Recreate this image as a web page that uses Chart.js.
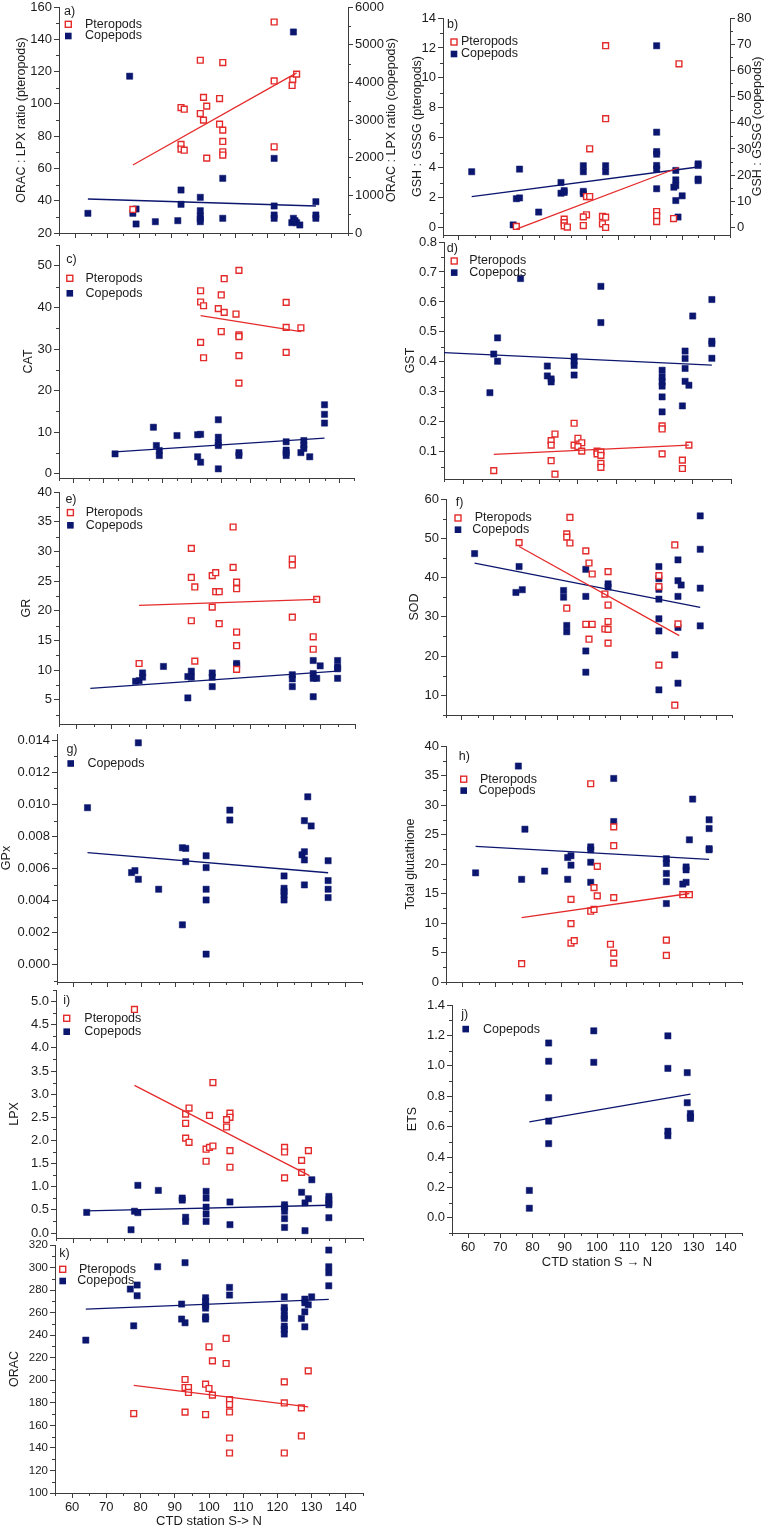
<!DOCTYPE html>
<html>
<head>
<meta charset="utf-8">
<script src="https://cdn.jsdelivr.net/npm/chart.js@4.4.1/dist/chart.umd.min.js"></script>
<style>
  html, body { margin: 0; padding: 0; background: #fff; }
  #page { position: relative; width: 766px; height: 1528px; overflow: hidden; background: #fff; }
  #page canvas { position: absolute; }
</style>
</head>
<body>
<div id="page"></div>
<script>
// ---- x (CTD station) tick labels ----
const xTicks = [60, 70, 80, 90, 100, 110, 120, 130, 140]
const cXTicks = [50, 60, 70, 80, 90, 100, 110, 120, 130, 140]
const dXTicks = [70, 80, 90, 100, 110, 120, 130, 140]

// ---- a) ORAC : LPX ratio ----
const aYTicks = [20, 40, 60, 80, 100, 120, 140, 160]
const aY2Ticks = [0, 1000, 2000, 3000, 4000, 5000, 6000]
const aPteroX = [122, 127.8, 127.6, 129, 122, 122, 99, 106, 93, 94, 100, 101, 99, 100, 105, 105, 106, 106, 106, 106, 101, 93, 93, 94, 78]
const aPteroY = [150.7, 115.1, 111.4, 118.4, 114.2, 73.4, 127, 125.6, 97.7, 96.7, 104, 98.6, 94.0, 89.9, 103.3, 87.4, 83.7, 76.7, 70.3, 68.3, 66.4, 74.9, 72.0, 71.3, 34.6]
const aCopeX = [64, 78, 79, 79, 77, 85, 92, 93, 93, 99, 99, 99, 99, 99, 106, 106, 122, 122, 122, 122, 128, 127.5, 128, 128.5, 129, 130, 135, 135, 135]
const aCopeY = [523, 523, 637, 239, 4163, 300, 327, 1141, 761, 947, 592, 452, 373, 300, 1451, 390, 1981, 717, 478, 390, 5337, 274, 390, 327, 274, 213, 831, 478, 390]
const aPteroFitX = [78, 129]
const aPteroFitY = [62.1, 119.2]
const aCopeFitX = [64, 135]
const aCopeFitY = [902, 717]

// ---- b) GSH : GSSG ----
const bYTicks = [0, 2, 4, 6, 8, 10, 12, 14]
const bY2Ticks = [0, 10, 20, 30, 40, 50, 60, 70, 80]
const bPteroX = [106, 129, 106, 101, 100, 101, 100, 99, 99, 93, 93, 93, 94, 105, 106, 105, 106, 122, 122, 122, 127.3, 78]
const bPteroY = [12.15, 10.94, 7.27, 5.26, 2.07, 2.07, 0.85, 0.71, 0.13, 0.56, 0.33, 0.11, 0.03, 0.74, 0.69, 0.25, 0.0, 1.07, 0.80, 0.40, 0.6, 0.07]
const bCopeX = [64, 77, 79, 78, 79, 85, 92, 92, 93, 93, 99, 99, 99, 99, 106, 106, 122, 122, 122, 122, 122, 122, 122, 128, 128, 127.4, 128, 128, 128.7, 130, 135, 135, 135, 135]
const bCopeY = [21.3, 1.0, 22.3, 11.0, 11.3, 5.9, 17.2, 13.1, 14.1, 13.4, 23.6, 21.3, 13.8, 12.9, 23.6, 21.3, 69.4, 36.4, 29.0, 28.0, 23.7, 22.3, 14.8, 21.8, 18.2, 15.4, 16.0, 10.3, 4.0, 12.1, 24.3, 23.7, 18.5, 17.9]
const bPteroFitX = [78, 129]
const bPteroFitY = [-0.11, 4.01]
const bCopeFitX = [64, 135]
const bCopeFitY = [11.8, 23.1]

// ---- c) CAT ----
const cYTicks = [0, 10, 20, 30, 40, 50]
const cPteroX = [106, 101, 93, 100, 93, 94, 99, 101, 105, 122, 122, 127, 122, 100, 106, 106, 93, 94, 106, 106]
const cPteroY = [48.9, 46.9, 44.0, 43.0, 41.3, 40.4, 39.7, 38.8, 38.4, 41.2, 35.2, 35.1, 29.2, 34.2, 33.4, 33.0, 31.6, 27.9, 28.4, 21.8]
const cCopeX = [64, 77, 78, 79, 79, 85, 92, 93, 92, 93, 99, 99, 99, 99, 99, 106, 106, 122, 122, 122, 122, 128, 128, 128, 127, 130, 135, 135, 135]
const cCopeY = [4.8, 11.2, 6.8, 5.6, 4.4, 9.2, 9.4, 9.5, 4.1, 2.8, 13.0, 8.8, 7.4, 6.8, 1.2, 5.1, 4.4, 7.7, 5.7, 5.1, 4.4, 8.0, 6.9, 6.1, 5.1, 4.1, 16.6, 14.3, 12.2]
const cPteroFitX = [93, 127]
const cPteroFitY = [38.0, 34.2]
const cCopeFitX = [64, 135]
const cCopeFitY = [5.3, 8.6]

// ---- d) GST ----
const dYTicks = [0.1, 0.2, 0.3, 0.4, 0.5, 0.6, 0.7, 0.8]
const dPteroX = [99, 94, 93, 93, 93, 100, 101, 99, 100, 101, 105, 105, 106, 106, 106, 106, 122, 122, 122, 129, 127.3, 127.3, 78, 94]
const dPteroY = [0.195, 0.159, 0.137, 0.122, 0.07, 0.145, 0.13, 0.122, 0.117, 0.102, 0.102, 0.093, 0.1, 0.088, 0.061, 0.048, 0.186, 0.176, 0.093, 0.122, 0.072, 0.044, 0.037, 0.025]
const dCopeX = [85, 106, 106, 135, 130, 79, 78, 79, 77, 92, 92, 93, 93, 99, 99, 99, 99, 122, 122, 122, 122, 122, 122, 128, 128, 128, 128, 129, 127.3, 135, 135, 135]
const dCopeY = [0.678, 0.652, 0.531, 0.608, 0.553, 0.48, 0.426, 0.402, 0.297, 0.386, 0.353, 0.343, 0.333, 0.417, 0.402, 0.388, 0.356, 0.372, 0.35, 0.333, 0.319, 0.283, 0.233, 0.436, 0.411, 0.378, 0.335, 0.322, 0.253, 0.469, 0.461, 0.412]
const dPteroFitX = [78, 129]
const dPteroFitY = [0.091, 0.122]
const dCopeFitX = [65, 135]
const dCopeFitY = [0.431, 0.389]

// ---- e) GR ----
const eYTicks = [5, 10, 15, 20, 25, 30, 35, 40]
const ePteroX = [105, 93, 122, 122, 105, 93, 99, 100, 94, 100, 101, 106, 106, 99, 93, 101, 122, 129, 128, 128, 106, 106, 94, 106, 78]
const ePteroY = [34.1, 30.5, 28.7, 27.7, 27.3, 25.6, 25.9, 26.4, 24.0, 23.2, 23.2, 24.8, 23.7, 20.6, 18.3, 17.8, 18.9, 21.9, 15.6, 13.5, 16.4, 14.1, 11.5, 10.1, 11.1]
const eCopeX = [77, 78, 79, 79, 85, 92, 93, 93, 92, 99, 99, 99, 106, 106, 122, 122, 122, 128, 128, 128, 129, 130, 128, 135, 135, 135, 135]
const eCopeY = [8.1, 8.2, 9.5, 8.8, 10.6, 8.9, 9.8, 8.8, 5.3, 9.5, 8.8, 7.2, 11.1, 10.8, 9.2, 8.5, 7.2, 11.6, 9.4, 8.6, 8.6, 10.7, 5.5, 11.6, 10.5, 10.2, 8.6]
const ePteroFitX = [78, 129]
const ePteroFitY = [20.9, 21.9]
const eCopeFitX = [64, 135]
const eCopeFitY = [6.9, 9.8]

// ---- f) SOD ----
const fYTicks = [10, 20, 30, 40, 50, 60]
const fPteroX = [94, 93, 93, 94, 78, 99, 100, 101, 106, 105, 106, 106, 105, 106, 106, 93, 99, 101, 100, 122, 122, 122, 127, 128, 127]
const fPteroY = [55.3, 51.1, 50.3, 48.8, 48.9, 46.8, 43.7, 40.9, 41.5, 35.8, 33.0, 28.8, 26.9, 26.8, 23.3, 32.2, 28.1, 28.1, 24.3, 40.5, 37.7, 17.7, 48.3, 28.2, 7.5]
const fCopeX = [64, 78, 77, 79, 92, 92, 93, 93, 99, 99, 99, 99, 106, 106, 122, 122, 122, 122, 122, 122, 122, 128, 128, 128, 129, 128, 127, 128, 135, 135, 135, 135]
const fCopeY = [46.1, 42.8, 36.2, 36.9, 36.7, 35.0, 27.8, 26.2, 42.1, 35.2, 21.3, 15.9, 38.4, 37.6, 42.8, 39.7, 37.0, 34.5, 29.5, 26.4, 11.4, 44.5, 39.2, 35.2, 38.1, 27.3, 20.3, 13.1, 55.7, 47.2, 37.3, 27.7]
const fPteroFitX = [78, 128.4]
const fPteroFitY = [47.9, 25.2]
const fCopeFitX = [64, 135]
const fCopeFitY = [43.7, 32.4]

// ---- g) GPx ----
const gYTicks = [0, 0.002, 0.004, 0.006, 0.008, 0.010, 0.012, 0.014]
const gCopeX = [79, 64, 77, 78, 79, 85, 92, 93, 93, 92, 99, 99, 99, 99, 99, 106, 106, 122, 122, 122, 122, 122, 129, 128, 130, 127.3, 128, 128, 128, 135, 135, 135, 135]
const gCopeY = [0.01385, 0.0098, 0.00575, 0.00587, 0.00533, 0.00471, 0.0073, 0.00726, 0.00643, 0.00249, 0.0068, 0.00606, 0.00471, 0.00404, 0.00066, 0.00965, 0.00903, 0.00554, 0.00477, 0.00456, 0.00436, 0.00404, 0.01048, 0.00899, 0.00866, 0.00686, 0.00705, 0.00654, 0.00498, 0.00649, 0.00525, 0.00471, 0.00419]
const gCopeFitX = [64, 135]
const gCopeFitY = [0.00699, 0.00574]

// ---- h) Total glutathione ----
const hYTicks = [0, 5, 10, 15, 20, 25, 30, 35, 40]
const hPteroX = [99, 106, 106, 101, 100, 101, 106, 93, 99, 100, 127, 129, 93, 93, 94, 105, 106, 106, 122, 122, 78]
const hPteroY = [33.6, 26.3, 23.1, 19.6, 16.0, 14.6, 14.3, 14.0, 12.0, 12.3, 14.8, 14.8, 9.9, 6.6, 7.0, 6.4, 4.9, 3.2, 7.1, 4.5, 3.1]
const hCopeX = [77, 106, 106, 130, 135, 135, 135, 135, 79, 64, 78, 85, 92, 93, 93, 92, 99, 99, 99, 99, 122, 122, 122, 122, 122, 127, 128, 128, 128, 129]
const hCopeY = [36.6, 34.5, 27.2, 31.0, 27.5, 26.0, 22.6, 22.4, 25.9, 18.5, 17.4, 18.8, 21.1, 21.4, 19.8, 17.4, 22.9, 22.4, 20.3, 16.9, 20.9, 20.1, 18.4, 17.0, 13.3, 16.6, 16.9, 19.5, 19.0, 24.1]
const hPteroFitX = [78, 129]
const hPteroFitY = [10.9, 15.0]
const hCopeFitX = [64, 135]
const hCopeFitY = [23.0, 20.8]

// ---- i) LPX ----
const iYTicks = [0, 0.5, 1.0, 1.5, 2.0, 2.5, 3.0, 3.5, 4.0, 4.5, 5.0]
const iPteroX = [78, 101, 94, 93, 93, 100, 106, 106, 105, 105, 93, 94, 99, 100, 101, 106, 122, 122, 129, 99, 106, 122, 127, 127]
const iPteroY = [4.83, 3.25, 2.70, 2.57, 2.37, 2.54, 2.59, 2.50, 2.45, 2.29, 2.05, 1.96, 1.81, 1.85, 1.88, 1.78, 1.85, 1.75, 1.78, 1.55, 1.42, 1.19, 1.57, 1.31]
const iCopeX = [64, 77, 78, 79, 79, 85, 92, 92, 93, 93, 99, 99, 99, 99, 99, 106, 106, 122, 122, 122, 122, 122, 127, 128, 129, 130, 128, 135, 135, 135, 135, 135]
const iCopeY = [0.445, 0.07, 0.47, 0.44, 1.03, 0.92, 0.755, 0.71, 0.34, 0.25, 0.9, 0.755, 0.56, 0.41, 0.25, 0.67, 0.18, 0.61, 0.56, 0.47, 0.31, 0.12, 0.88, 0.65, 0.74, 1.15, 0.05, 0.79, 0.72, 0.65, 0.61, 0.33]
const iPteroFitX = [78, 129.3]
const iPteroFitY = [3.19, 1.24]
const iCopeFitX = [64, 135]
const iCopeFitY = [0.48, 0.6]

// ---- j) ETS ----
const jYTicks = [0, 0.2, 0.4, 0.6, 0.8, 1.0, 1.2, 1.4]
const jCopeX = [79, 79, 85, 85, 85, 85, 85, 99, 99, 122, 122, 122, 122, 128, 128, 129, 129, 129]
const jCopeY = [0.18, 0.063, 1.15, 1.03, 0.79, 0.636, 0.488, 1.23, 1.023, 1.197, 0.983, 0.57, 0.54, 0.955, 0.757, 0.686, 0.665, 0.654]
const jCopeFitX = [79, 129]
const jCopeFitY = [0.631, 0.814]

// ---- k) ORAC ----
const kYTicks = [100, 120, 140, 160, 180, 200, 220, 240, 260, 280, 300, 320]
const kPteroX = [78, 93, 93, 94, 94, 93, 99, 100, 100, 101, 101, 99, 105, 105, 106, 106, 106, 106, 106, 122, 122, 122, 127, 127, 129]
const kPteroY = [170.5, 200.7, 193.6, 193.6, 189.2, 171.7, 196.5, 192.7, 229.7, 217.2, 186.8, 169.6, 237.1, 214.9, 182.9, 178.5, 171.9, 148.8, 135.5, 198.6, 179.9, 135.5, 175.5, 150.6, 208.3]
const kCopeX = [64, 77, 79, 79, 78, 85, 93, 92, 92, 93, 99, 99, 99, 99, 99, 99, 106, 106, 122, 122, 122, 122, 122, 122, 122, 122, 127, 128, 128, 128, 128, 129, 130, 135, 135, 135, 135]
const kCopeY = [235.6, 280.9, 284.5, 275.0, 248.3, 300.7, 304.3, 267.6, 254.3, 251.0, 273.2, 270, 266.5, 264, 256.3, 254.3, 282.4, 275.6, 274, 264.6, 261.7, 257, 254.8, 248, 245.2, 241, 254.8, 272, 268.7, 260.7, 247.4, 267, 274, 315.5, 300.7, 295.4, 283.8]
const kPteroFitX = [78, 129]
const kPteroFitY = [195.4, 176.4]
const kCopeFitX = [64, 135]
const kCopeFitY = [263.1, 271.7]

const RED = '#e42b2b'
const NAVY = '#0b166e'
const AXIS = '#3c3c3c'
const TEXT = '#1c1c1c'
const FONT = "'Liberation Sans', Arial, Helvetica, sans-serif"

Chart.defaults.font.family = FONT
Chart.defaults.color = TEXT

// page layout of every panel (plot area edges in page pixels)
const panels = [
  { L: 59, R: 348.3, T: 6.7, B: 233, x: [55, 145], xT: xTicks, y: [20, 160], yT: aYTicks, yDec: 0,
    y2: [0, 6000], y2T: aY2Ticks, copeAxis: 'y2',
    ptero: [aPteroX, aPteroY], cope: [aCopeX, aCopeY], pFit: [aPteroFitX, aPteroFitY], cFit: [aCopeFitX, aCopeFitY],
    label: ['a)', 64, 11], legend: [['p', 68.3, 24, 85], ['c', 68.3, 35.7, 85]],
    yTitle: ['ORAC : LPX ratio (pteropods)', 22], y2Title: ['ORAC : LPX ratio (copepods)', 392] },
  { L: 443, R: 729.7, T: 18.3, B: 235.2, x: [55, 145], xT: xTicks, y: [-0.5, 14], yT: bYTicks, yDec: 0,
    y2: [-0.5 * 80 / 14, 80], y2T: bY2Ticks, copeAxis: 'y2',
    ptero: [bPteroX, bPteroY], cope: [bCopeX, bCopeY], pFit: [bPteroFitX, bPteroFitY], cFit: [bCopeFitX, bCopeFitY],
    label: ['b)', 447, 25], legend: [['p', 454, 42.3, 461], ['c', 454, 54.3, 461]],
    yTitle: ['GSH : GSSG (pteropods)', 418], y2Title: ['GSH : GSSG (copepods)', 758] },
  { L: 58.5, R: 353.3, T: 245, B: 478.3, x: [45, 145], xT: cXTicks, y: [-1, 55], yT: cYTicks, yDec: 0,
    ptero: [cPteroX, cPteroY], cope: [cCopeX, cCopeY], pFit: [cPteroFitX, cPteroFitY], cFit: [cCopeFitX, cCopeFitY],
    label: ['c)', 65.7, 259.3], legend: [['p', 69.3, 278.3, 85], ['c', 69.3, 293.3, 85]],
    yTitle: ['CAT', 28] },
  { L: 443.5, R: 730.7, T: 241.7, B: 479, x: [65, 140], xT: dXTicks, y: [0.009, 0.8], yT: dYTicks, yDec: 1,
    ptero: [dPteroX, dPteroY], cope: [dCopeX, dCopeY], pFit: [dPteroFitX, dPteroFitY], cFit: [dCopeFitX, dCopeFitY],
    label: ['d)', 446.3, 248.3], legend: [['p', 453.7, 260.7, 468.7], ['c', 453.7, 272.3, 468.7]],
    yTitle: ['GST', 410] },
  { L: 59.3, R: 355, T: 491.7, B: 723.3, x: [55, 140], xT: xTicks, y: [0.9, 40], yT: eYTicks, yDec: 0,
    ptero: [ePteroX, ePteroY], cope: [eCopeX, eCopeY], pFit: [ePteroFitX, ePteroFitY], cFit: [eCopeFitX, eCopeFitY],
    label: ['e)', 65.7, 499.3], legend: [['p', 70.7, 512.3, 86], ['c', 70.7, 525, 86]],
    yTitle: ['GR', 27] },
  { L: 446, R: 732, T: 499.3, B: 715, x: [55, 145], xT: xTicks, y: [5, 60], yT: fYTicks, yDec: 0,
    ptero: [fPteroX, fPteroY], cope: [fCopeX, fCopeY], pFit: [fPteroFitX, fPteroFitY], cFit: [fCopeFitX, fCopeFitY],
    label: ['f)', 455.7, 503.3], legend: [['p', 458, 518.3, 474.7], ['c', 458, 530, 472.3]],
    yTitle: ['SOD', 414.7] },
  { L: 57.3, R: 362.3, T: 733.8, B: 982.2, x: [55, 145], xT: xTicks, y: [-0.00108, 0.0144], yT: gYTicks, yDec: 3,
    cope: [gCopeX, gCopeY], cFit: [gCopeFitX, gCopeFitY],
    label: ['g)', 66.7, 749.3], legend: [['c', 71, 763.3, 87.7]],
    yTitle: ['GPx', 7] },
  { L: 446.3, R: 742.3, T: 746.1, B: 981.7, x: [55, 145], xT: xTicks, y: [0, 40], yT: hYTicks, yDec: 0,
    ptero: [hPteroX, hPteroY], cope: [hCopeX, hCopeY], pFit: [hPteroFitX, hPteroFitY], cFit: [hCopeFitX, hCopeFitY],
    label: ['h)', 459, 756.7], legend: [['p', 464, 779.3, 480.3], ['c', 464, 790.7, 478.7]],
    yTitle: ['Total glutathione', 411.3] },
  { L: 56, R: 363.3, T: 990, B: 1238.3, x: [55, 145], xT: xTicks, y: [-0.108, 5.25], yT: iYTicks, yDec: 1,
    ptero: [iPteroX, iPteroY], cope: [iCopeX, iCopeY], pFit: [iPteroFitX, iPteroFitY], cFit: [iCopeFitX, iCopeFitY],
    label: ['i)', 63.3, 1000.7], legend: [['p', 66.7, 1018.3, 84.3], ['c', 66.7, 1031.7, 84.3]],
    yTitle: ['LPX', 15] },
  { L: 452, R: 742.3, T: 1005.2, B: 1232.7, x: [55, 145], xT: xTicks, y: [-0.1, 1.4], yT: jYTicks, yDec: 1,
    cope: [jCopeX, jCopeY], cFit: [jCopeFitX, jCopeFitY],
    label: ['j)', 461.3, 1015], legend: [['c', 465.7, 1029.3, 483]],
    yTitle: ['ETS', 413], xLabels: true, xTitle: ['CTD station S \u2192 N', 1262.7] },
  { L: 55, R: 362.7, T: 1245, B: 1492.7, x: [55, 145], xT: xTicks, y: [100, 320], yT: kYTicks, yDec: 0, ySize: 11.5,
    ptero: [kPteroX, kPteroY], cope: [kCopeX, kCopeY], pFit: [kPteroFitX, kPteroFitY], cFit: [kCopeFitX, kCopeFitY],
    label: ['k)', 59.3, 1254], legend: [['p', 62.7, 1269.3, 79], ['c', 62.7, 1281, 77.3]],
    yTitle: ['ORAC', 15], xLabels: true, xTitle: ['CTD station S-> N', 1521] }
]

function minorTicks(majors, min, max) {
  const step = majors[1] - majors[0]
  const out = []
  for (let v = majors[0] - step / 2; v >= min - 1e-9; v -= step) out.push(v)
  majors.forEach(m => {
    const v = m + step / 2
    if (v <= max + 1e-9) out.push(v)
  })
  return out
}

function points(xs, ys) {
  return xs.map((x, i) => ({ x: x, y: ys[i] }))
}

function drawMarker(ctx, kind, x, y) {
  if (kind === 'p') {
    ctx.fillStyle = '#fff'
    ctx.strokeStyle = RED
    ctx.lineWidth = 1.4
    ctx.fillRect(x - 3, y - 3, 6, 6)
    ctx.strokeRect(x - 3, y - 3, 6, 6)
  } else {
    ctx.fillStyle = NAVY
    ctx.fillRect(x - 3.3, y - 3.3, 6.6, 6.6)
  }
}

// minor ticks, panel letter, legend and axis titles
const decorPlugin = {
  id: 'decor',
  afterDraw(chart) {
    const p = panels[+chart.canvas.dataset.panel]
    const ctx = chart.ctx
    const area = chart.chartArea
    ctx.save()
    ctx.strokeStyle = AXIS
    ctx.lineWidth = 1
    ctx.beginPath()
    const xs = chart.scales.x
    minorTicks(p.xT, p.x[0], p.x[1]).forEach(v => {
      const px = Math.round(xs.getPixelForValue(v)) + 0.5
      ctx.moveTo(px, area.bottom)
      ctx.lineTo(px, area.bottom + 3)
    })
    const ys = chart.scales.y
    minorTicks(p.yT, p.y[0], p.y[1]).forEach(v => {
      const py = Math.round(ys.getPixelForValue(v)) + 0.5
      ctx.moveTo(area.left - 3, py)
      ctx.lineTo(area.left, py)
    })
    if (p.y2) {
      const y2 = chart.scales.y2
      minorTicks(p.y2T, p.y2[0], p.y2[1]).forEach(v => {
        const py = Math.round(y2.getPixelForValue(v)) + 0.5
        ctx.moveTo(area.right, py)
        ctx.lineTo(area.right + 3, py)
      })
    }
    ctx.stroke()

    const ox = p.box.left
    const oy = p.box.top
    ctx.fillStyle = TEXT
    ctx.textBaseline = 'middle'
    ctx.textAlign = 'left'
    ctx.font = '12.5px ' + FONT
    ctx.fillText(p.label[0], p.label[1] - ox, p.label[2] - oy)

    p.legend.forEach(item => {
      drawMarker(ctx, item[0], item[1] - ox, item[2] - oy)
      ctx.fillStyle = TEXT
      ctx.font = '12.5px ' + FONT
      ctx.fillText(item[0] === 'p' ? 'Pteropods' : 'Copepods', item[3] - ox, item[2] - oy)
    })

    const midY = (area.top + area.bottom) / 2
    ctx.textAlign = 'center'
    ctx.font = '12.5px ' + FONT
    const vertical = (text, x) => {
      ctx.save()
      ctx.translate(x, midY)
      ctx.rotate(-Math.PI / 2)
      ctx.fillText(text, 0, 0)
      ctx.restore()
    }
    vertical(p.yTitle[0], p.yTitle[1] - ox)
    if (p.y2Title) vertical(p.y2Title[0], p.y2Title[1] - ox)
    if (p.xTitle) {
      ctx.font = '13px ' + FONT
      ctx.fillText(p.xTitle[0], (area.left + area.right) / 2, p.xTitle[1] - oy)
    }
    ctx.restore()
  }
}

function axisGrid() {
  return { display: true, drawOnChartArea: false, drawTicks: true, tickLength: 5, color: AXIS, tickColor: AXIS, lineWidth: 1 }
}

const page = document.getElementById('page')

panels.forEach((p, idx) => {
  const padL = 60, padT = 14, padB = 42
  const padR = p.y2 ? 58 : 20
  p.box = { left: p.L - padL, top: p.T - padT }
  const w = Math.round(padL + (p.R - p.L) + padR)
  const h = Math.round(padT + (p.B - p.T) + padB)

  const canvas = document.createElement('canvas')
  canvas.width = w
  canvas.height = h
  canvas.style.left = p.box.left + 'px'
  canvas.style.top = p.box.top + 'px'
  canvas.style.width = w + 'px'
  canvas.style.height = h + 'px'
  canvas.dataset.panel = idx
  page.appendChild(canvas)

  const datasets = []
  if (p.pFit) {
    datasets.push({ data: points(p.pFit[0], p.pFit[1]), showLine: true, pointRadius: 0, borderColor: RED, borderWidth: 1.3, yAxisID: 'y' })
  }
  if (p.cFit) {
    datasets.push({ data: points(p.cFit[0], p.cFit[1]), showLine: true, pointRadius: 0, borderColor: NAVY, borderWidth: 1.3, yAxisID: p.copeAxis || 'y' })
  }
  if (p.ptero) {
    datasets.push({ data: points(p.ptero[0], p.ptero[1]), pointStyle: 'rect', pointRadius: 4.1, backgroundColor: '#fff',
      borderColor: RED, borderWidth: 1.4, yAxisID: 'y' })
  }
  if (p.cope) {
    datasets.push({ data: points(p.cope[0], p.cope[1]), pointStyle: 'rect', pointRadius: 4.4, backgroundColor: NAVY,
      borderColor: NAVY, borderWidth: 0.5, yAxisID: p.copeAxis || 'y' })
  }

  const scales = {
    x: {
      type: 'linear', position: 'bottom', min: p.x[0], max: p.x[1],
      afterBuildTicks: s => { s.ticks = p.xT.map(v => ({ value: v })) },
      afterFit: s => { s.height = padB },
      grid: axisGrid(),
      border: { display: true, color: AXIS, width: 1 },
      ticks: { display: !!p.xLabels, autoSkip: false, maxRotation: 0, padding: 2, color: TEXT,
        font: { size: 13, family: FONT }, callback: v => String(v) }
    },
    y: {
      type: 'linear', position: 'left', min: p.y[0], max: p.y[1],
      afterBuildTicks: s => { s.ticks = p.yT.map(v => ({ value: v })) },
      afterFit: s => { s.width = padL },
      grid: axisGrid(),
      border: { display: true, color: AXIS, width: 1 },
      ticks: { autoSkip: false, padding: 2, color: TEXT, font: { size: p.ySize || 13, family: FONT },
        callback: v => Number(v).toFixed(p.yDec) }
    }
  }
  if (p.y2) {
    scales.y2 = {
      type: 'linear', position: 'right', min: p.y2[0], max: p.y2[1],
      afterBuildTicks: s => { s.ticks = p.y2T.map(v => ({ value: v })) },
      afterFit: s => { s.width = padR },
      grid: axisGrid(),
      border: { display: true, color: AXIS, width: 1 },
      ticks: { autoSkip: false, padding: 2, color: TEXT, font: { size: 13, family: FONT },
        callback: v => String(Math.round(v)) }
    }
  }

  new Chart(canvas, {
    type: 'scatter',
    data: { datasets: datasets },
    options: {
      responsive: false,
      animation: false,
      events: [],
      layout: { padding: { left: 0, top: padT, right: p.y2 ? 0 : padR, bottom: 0 } },
      plugins: { legend: { display: false }, tooltip: { enabled: false } },
      datasets: { scatter: { clip: false } },
      scales: scales
    },
    plugins: [decorPlugin]
  })
})
</script>
</body>
</html>
